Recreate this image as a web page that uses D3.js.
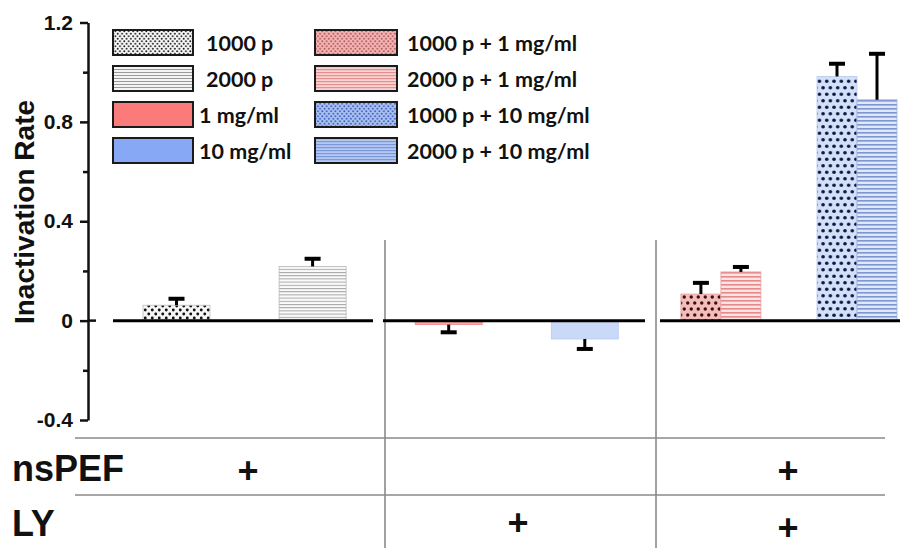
<!DOCTYPE html>
<html><head><meta charset="utf-8">
<script src="https://cdn.jsdelivr.net/npm/d3@7/dist/d3.min.js"></script>
<style>body{margin:0;background:#fff}svg{display:block}</style>
</head><body><svg id="c" width="905" height="548"></svg>
<script>
// ---- data ----
const series = ["1000 p","2000 p","1 mg/ml","10 mg/ml","1000 p + 1 mg/ml","2000 p + 1 mg/ml","1000 p + 10 mg/ml","2000 p + 10 mg/ml"];
const values = [0.062, 0.218, -0.016, -0.074, 0.107, 0.196, 0.983, 0.889];
const errors = [0.026, 0.031, 0.031, 0.040, 0.045, 0.020, 0.051, 0.185];
const groups = ["1000 p","2000 p","1 mg/ml","10 mg/ml","nsPEF + 1 mg/ml","nsPEF + 10 mg/ml"];
const seriesGroup = ["1000 p","2000 p","1 mg/ml","10 mg/ml","nsPEF + 1 mg/ml","nsPEF + 1 mg/ml","nsPEF + 10 mg/ml","nsPEF + 10 mg/ml"];
const pulses = ["1000 p","2000 p"];
const majorTicks = [-0.4, 0, 0.4, 0.8, 1.2];
const minorTicks = [-0.2, 0.2, 0.6, 1.0];
const tickLabels = ["-0.4","0","0.4","0.8","1.2"];
const rowLabels = ["nsPEF","LY"];
const nsPEFmarks = [true, false, true];
const LYmarks = [false, true, true];

// ---- layout ----
const svg = d3.select("#c");
const axisX = 88;
const sans = "'Liberation Sans', Arial, sans-serif";
const y = d3.scaleLinear().domain([-0.4, 1.2]).range([420, 22.5]);
const x = d3.scalePoint().domain(groups).range([176.5, 857]);
const sub = d3.scaleBand().domain(pulses).range([-40, 40]);
const singleW = 67;

const defs = svg.append("defs");
function dotPat(id, w, h, r, bg, dot) {
  const p = defs.append("pattern").attr("id", id).attr("patternUnits","userSpaceOnUse").attr("width", w).attr("height", h);
  p.append("rect").attr("width", w).attr("height", h).attr("fill", bg);
  p.append("circle").attr("cx", w*0.25).attr("cy", h*0.25).attr("r", r).attr("fill", dot);
  p.append("circle").attr("cx", w*0.75).attr("cy", h*0.75).attr("r", r).attr("fill", dot);
}
function linePat(id, h, bg, line, lw) {
  const p = defs.append("pattern").attr("id", id).attr("patternUnits","userSpaceOnUse").attr("width", 10).attr("height", h);
  p.append("rect").attr("width", 10).attr("height", h).attr("fill", bg);
  p.append("rect").attr("y", 0).attr("width", 10).attr("height", lw).attr("fill", line);
}
// chart patterns
dotPat("c0", 7, 8, 1.45, "#f6f6f6", "#111");
linePat("c1", 3.2, "#fbfbfb", "#a3a3a3", 1);
dotPat("c4", 7, 12, 1.7, "#f5bcbc", "#3a1010");
linePat("c5", 4, "#fde4e4", "#e48a8a", 1.6);
dotPat("c6", 7.3, 13, 1.8, "#d3e0f7", "#0d1a45");
linePat("c7", 4, "#dfe7f8", "#7e97cf", 1.6);
// legend patterns
dotPat("l0", 4.4, 5, 0.95, "#f8f8f8", "#222");
linePat("l1", 3, "#f4f4f4", "#9a9a9a", 1);
dotPat("l4", 4.4, 5, 0.95, "#f4b3b3", "#b25b5b");
linePat("l5", 3, "#f9d2d2", "#e58f8f", 1.2);
dotPat("l6", 4.4, 5, 0.95, "#a9c1f3", "#3f5fb5");
linePat("l7", 3, "#b4c8f2", "#7b98dc", 1.2);

const chartFill = ["url(#c0)","url(#c1)","#f6a9a9","#c9d9f7","url(#c4)","url(#c5)","url(#c6)","url(#c7)"];
const chartStroke = ["#bdbdbd","#b8b8b8","#f08a8a","#b7cbf2","#e9a0a0","#e8a0a0","#b9cbee","#9db2e0"];
const legendFill = ["url(#l0)","url(#l1)","#fb7b7b","#87a8f4","url(#l4)","url(#l5)","url(#l6)","url(#l7)"];

function barX(i) {
  const g = x(seriesGroup[i]);
  if (i < 4) return g - singleW/2;
  return g + sub(pulses[i % 2]);
}
function barW(i) { return i < 4 ? singleW : sub.bandwidth(); }

// ---- table / separators ----
const sepX = [385, 656];
svg.selectAll(".sep").data(sepX).join("line")
  .attr("x1", d => d).attr("x2", d => d).attr("y1", 240).attr("y2", 548)
  .attr("stroke", "#444").attr("stroke-width", 1);
svg.selectAll(".hl").data([438, 495]).join("line")
  .attr("x1", 75).attr("x2", 885).attr("y1", d => d).attr("y2", d => d)
  .attr("stroke", "#8a8a8a").attr("stroke-width", 1.5);

// ---- bars ----
const bars = values.map((v, i) => ({v, i, e: errors[i]}));
svg.append("g").selectAll("rect").data(bars).join("rect")
  .attr("x", d => barX(d.i)).attr("width", d => barW(d.i))
  .attr("y", d => y(Math.max(0, d.v))).attr("height", d => Math.abs(y(d.v) - y(0)))
  .attr("fill", d => chartFill[d.i]).attr("stroke", d => chartStroke[d.i]).attr("stroke-width", 0.8);

// error bars
const eg = svg.append("g").attr("stroke", "#000");
bars.forEach(d => {
  const cx = barX(d.i) + barW(d.i)/2;
  const tip = d.v >= 0 ? d.v + d.e : d.v - d.e;
  eg.append("line").attr("x1", cx).attr("x2", cx).attr("y1", y(d.v)).attr("y2", y(tip)).attr("stroke-width", 3);
  eg.append("line").attr("x1", cx - 8).attr("x2", cx + 8).attr("y1", y(tip)).attr("y2", y(tip)).attr("stroke-width", 4);
});

// baselines per panel
const panels = [[113, 373], [383, 645], [660, 900]];
svg.selectAll(".base").data(panels).join("line")
  .attr("x1", d => d[0]).attr("x2", d => d[1]).attr("y1", y(0)).attr("y2", y(0))
  .attr("stroke", "#000").attr("stroke-width", 3);

// ---- y axis ----
const ax = svg.append("g").attr("transform", `translate(${axisX},0)`)
  .call(d3.axisLeft(y).tickValues(majorTicks).tickSize(8).tickSizeOuter(0).tickFormat((d,i) => tickLabels[i]));
ax.attr("font-family", sans);
ax.select(".domain").attr("stroke-width", 2.5).attr("stroke", "#111");
ax.selectAll(".tick line").attr("stroke-width", 2.5).attr("stroke", "#111");
ax.selectAll(".tick text").attr("font-family", sans).attr("font-weight", "bold")
  .attr("font-size", 21).attr("fill", "#111").attr("x", -15);
svg.append("g").attr("transform", `translate(${axisX},0)`)
  .call(d3.axisLeft(y).tickValues(minorTicks).tickSize(5).tickSizeOuter(0).tickFormat(""))
  .call(g => g.select(".domain").remove())
  .selectAll(".tick line").attr("stroke-width", 2.5).attr("stroke", "#111");
// zero tick crossing
svg.append("line").attr("x1", axisX).attr("x2", axisX + 8).attr("y1", y(0)).attr("y2", y(0)).attr("stroke", "#111").attr("stroke-width", 2.5);

svg.append("text").attr("transform", `translate(34,212) rotate(-90)`)
  .attr("text-anchor", "middle").attr("font-family", sans)
  .attr("font-weight", "bold").attr("font-size", 28).attr("fill", "#111").text("Inactivation Rate");

// ---- legend ----
const lg = svg.append("g");
const legRows = [30, 66, 102, 138];
series.forEach((s, i) => {
  const col = Math.floor(i / 4), row = i % 4;
  const bx = col === 0 ? 113 : 315, bw = col === 0 ? 80 : 82;
  lg.append("rect").attr("x", bx).attr("y", legRows[row]).attr("width", bw).attr("height", 25)
    .attr("fill", legendFill[i]).attr("stroke", "#1a1a1a").attr("stroke-width", 2);
  lg.append("text").attr("x", bx + bw + (col === 0 ? (row < 2 ? 13 : 6) : 10)).attr("y", legRows[row] + 13)
    .attr("dominant-baseline", "central").attr("font-family", "Lato, sans-serif").attr("font-weight", "bold")
    .attr("font-size", 21.5).attr("fill", "#111").text(s);
});

// ---- table labels ----
svg.selectAll(".rl").data(rowLabels).join("text")
  .attr("x", 12).attr("y", (d, i) => i === 0 ? 481 : 536)
  .attr("font-family", sans).attr("font-weight", "bold").attr("font-size", 36).attr("fill", "#111").text(d => d);
const panelCenters = [248, 518, 788];
svg.selectAll(".p1").data(nsPEFmarks.map((m, i) => ({m, i})).filter(d => d.m)).join("text")
  .attr("x", d => panelCenters[d.i]).attr("y", 470).attr("text-anchor", "middle").attr("dominant-baseline", "central")
  .attr("font-family", sans).attr("font-weight", "bold").attr("font-size", 36).attr("fill", "#111").text("+");
svg.selectAll(".p2").data(LYmarks.map((m, i) => ({m, i})).filter(d => d.m)).join("text")
  .attr("x", d => panelCenters[d.i]).attr("y", (d) => d.i === 2 ? 527 : 522).attr("text-anchor", "middle").attr("dominant-baseline", "central")
  .attr("font-family", sans).attr("font-weight", "bold").attr("font-size", 36).attr("fill", "#111").text("+");
</script></body></html>
